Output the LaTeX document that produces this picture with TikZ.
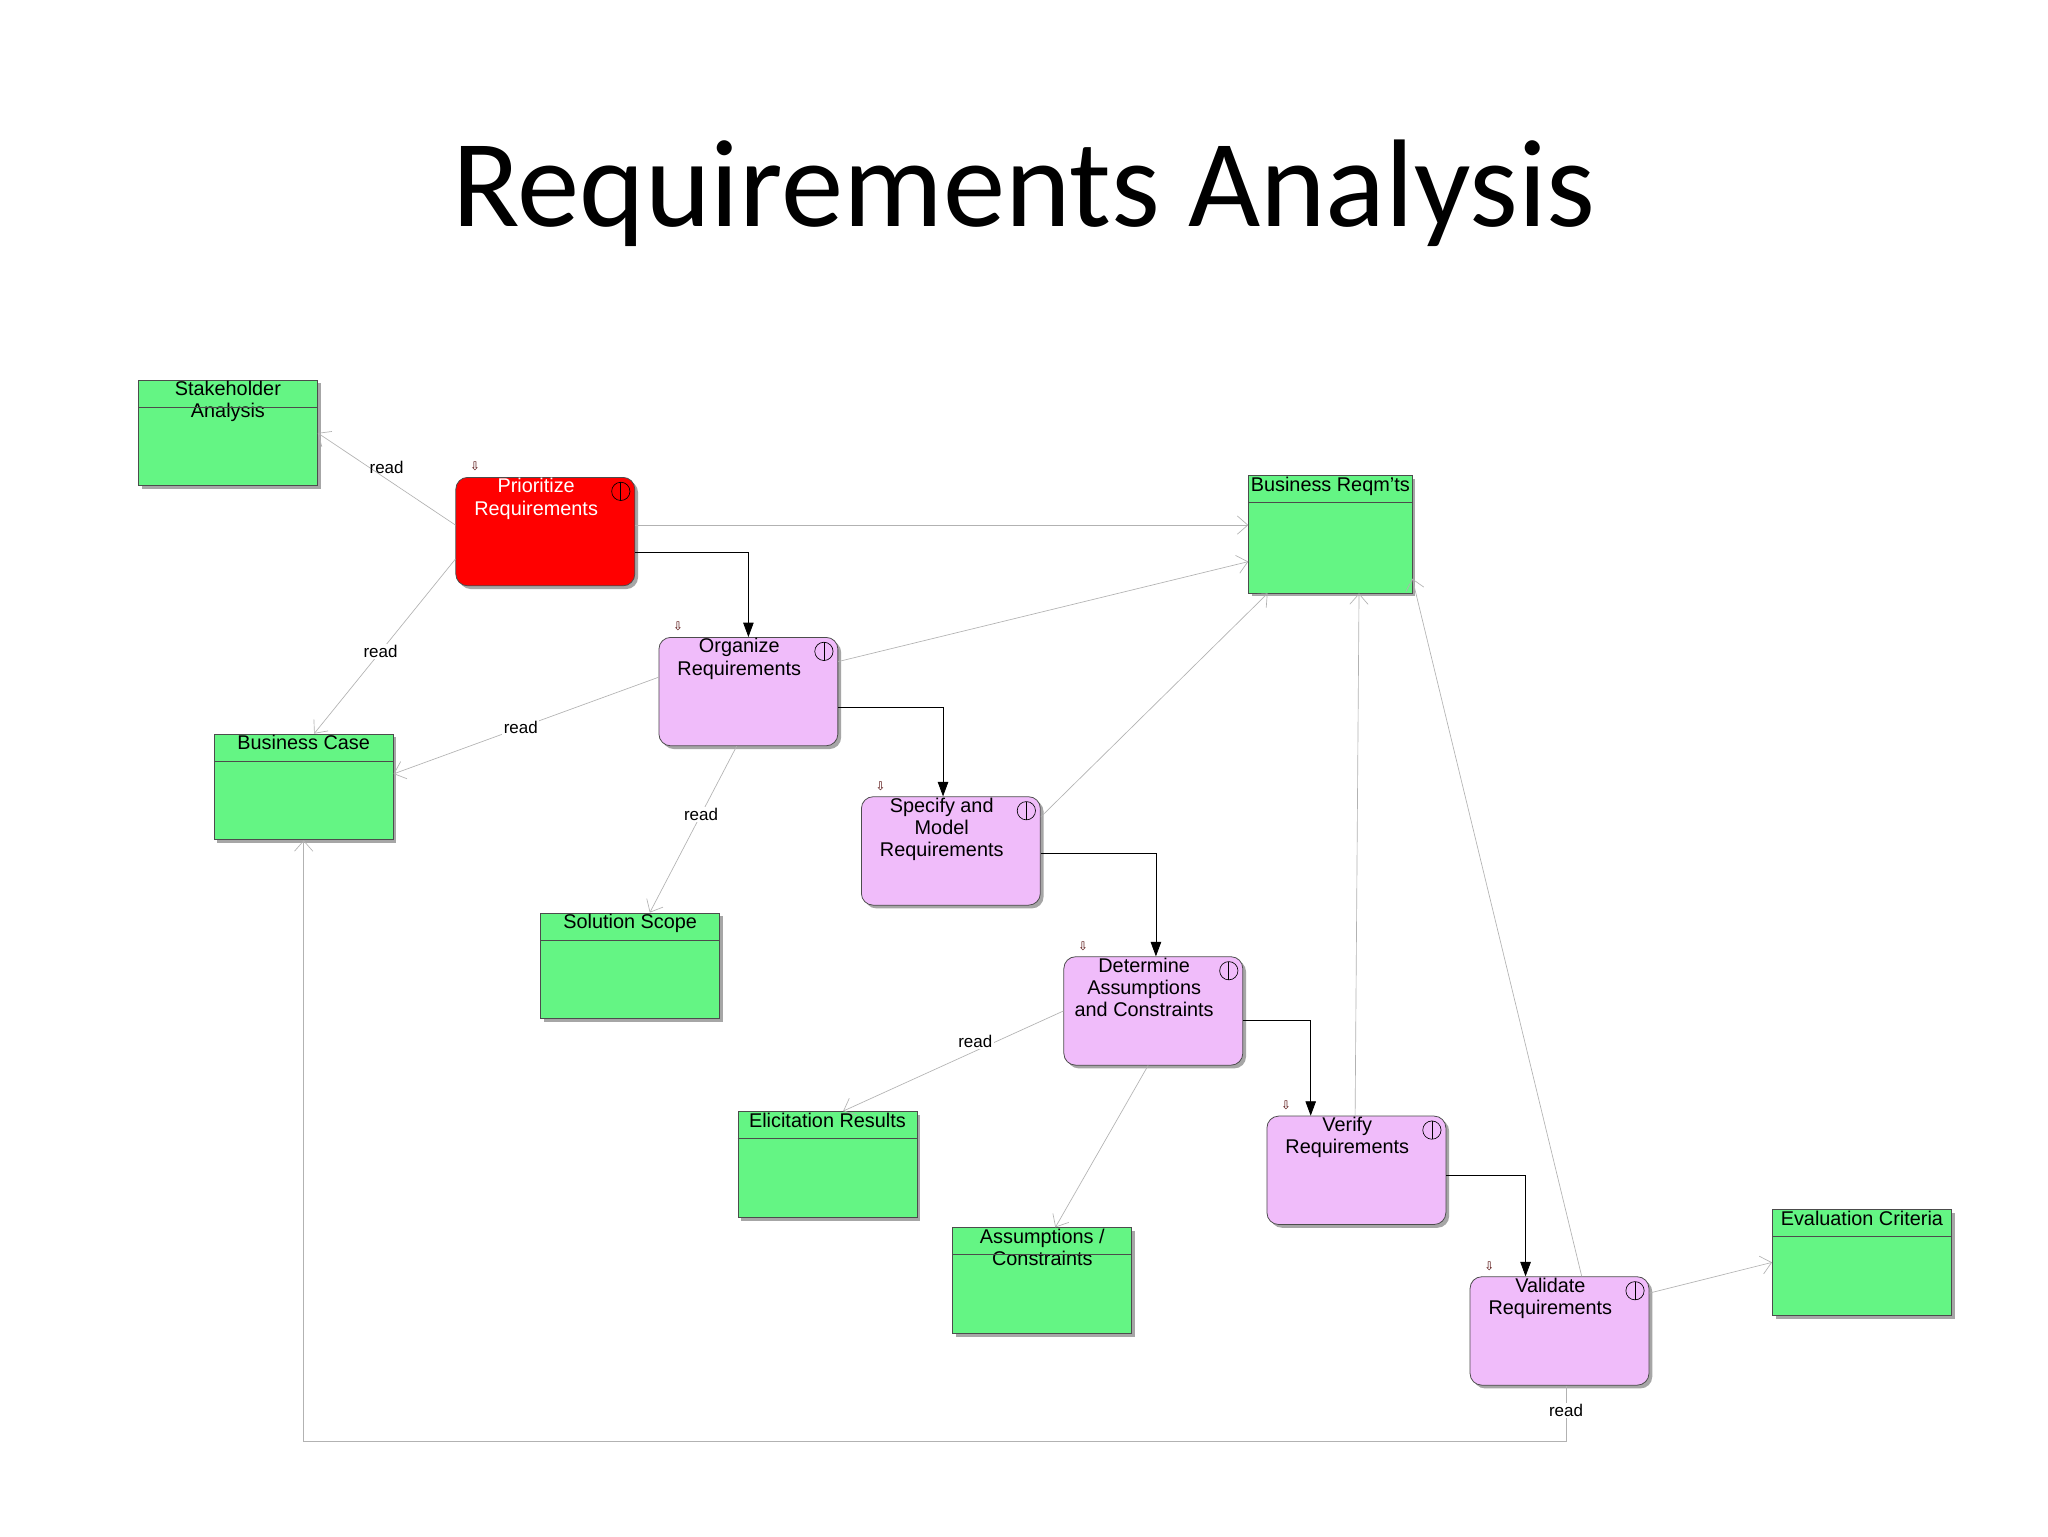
\documentclass[tikz,border=0pt]{standalone}
\usepackage{fontspec}
\setmainfont{Liberation Sans}
\newfontfamily\titlefont{Carlito}
\newfontfamily\symfont{DejaVu Sans}
\usetikzlibrary{arrows.meta,shadows}
\definecolor{datagreen}{HTML}{64F584}
\definecolor{actlilac}{HTML}{F0BCFA}
\definecolor{actred}{HTML}{FF0000}
\tikzset{
  box/.style={draw=black!70, line width=0.6pt, minimum width=137pt, minimum height=81pt, inner sep=0pt,
    drop shadow={shadow xshift=2.5pt, shadow yshift=-2.5pt, fill=black!35, opacity=1}},
  data/.style={box, fill=datagreen},
  act/.style={box, fill=actlilac, rounded corners=9pt, minimum height=83pt},
  boxtext/.style={anchor=north, inner sep=1pt, align=center, font=\fontsize{15.2}{17}\selectfont},
  acttext/.style={boxtext, xshift=-7pt},
  readline/.style={draw=black!30, line width=0.5pt, -{Straight Barb[length=8pt,width=14pt]}},
  flow/.style={draw=black, line width=0.6pt, -{Triangle[length=11pt,width=8pt]}},
  readlabel/.style={font=\fontsize{13}{14}\selectfont, text=black, fill=white, inner sep=1pt}
}
\begin{document}
\begin{tikzpicture}[x=1pt,y=-1pt]
  \fill[white] (0,0) rectangle (1568,1176);
  \useasboundingbox (0,0) rectangle (1568,1176);
  \node[font=\titlefont\fontsize{95.5}{105}\selectfont] (title) at (784,148) {Requirements Analysis};

  % data objects
  \node[data, label={[boxtext]north:Stakeholder\\Analysis}] (stake) at (174.5,331.5) {};
  \node[data, minimum width=125pt, minimum height=90pt, label={[boxtext]north:Business Reqm'ts}] (breq) at (1018.5,409) {};
  \node[data, label={[boxtext]north:Business Case}] (bcase) at (232.5,602.5) {};
  \node[data, label={[boxtext]north:Solution Scope}] (scope) at (482.5,739.5) {};
  \node[data, label={[boxtext]north:Elicitation Results}] (elic) at (633.5,891.5) {};
  \node[data, label={[boxtext]north:Assumptions /\\Constraints}] (assum) at (798,980.5) {};
  \node[data, label={[boxtext]north:Evaluation Criteria}] (eval) at (1425.5,966.5) {};
  \foreach \d in {stake,breq,bcase,scope,elic,assum,eval}
    \draw[black!70, line width=0.6pt] ([yshift=-21pt]\d.north west) -- ([yshift=-21pt]\d.north east);

  % activities
  \node[act, fill=actred, label={[acttext, text=white]north:Prioritize\\Requirements}] (pri) at (417.5,407) {};
  \node[act, label={[acttext]north:Organize\\Requirements}] (org) at (573,529.5) {};
  \node[act, label={[acttext]north:Specify and\\Model\\Requirements}] (spec) at (728,651.5) {};
  \node[act, label={[acttext]north:Determine\\Assumptions\\and Constraints}] (det) at (883,774) {};
  \node[act, label={[acttext]north:Verify\\Requirements}] (ver) at (1038.5,896) {};
  \node[act, label={[acttext]north:Validate\\Requirements}] (val) at (1194,1019) {};
  \foreach \a in {pri,org,spec,det,ver,val} {
    \draw[line width=0.5pt] ([xshift=-11pt,yshift=-11pt]\a.north east) circle[radius=7pt];
    \draw[line width=0.5pt] ([xshift=-11pt,yshift=-4pt]\a.north east) -- ([xshift=-11pt,yshift=-18pt]\a.north east);
    \node[font=\symfont\fontsize{9}{9}\selectfont, text=black!70!red] at ([xshift=15pt,yshift=8pt]\a.north west) {⇩};
  }

  % read connectors
  \draw[readline] ([yshift=5pt]pri.west) -- node[readlabel, pos=0.5, above=3pt, fill=none] {read} (stake.east);
  \draw[readline] ([yshift=-21pt]pri.west) -- node[readlabel, pos=0.53] {read} ([xshift=8pt]bcase.north);
  \draw[readline] ([yshift=5pt]pri.east) -- ([yshift=7pt]breq.west);
  \draw[readline] ([yshift=23pt]org.east) -- ([yshift=-21pt]breq.west);
  \draw[readline] ([yshift=11pt]org.west) -- node[readlabel, pos=0.52] {read} ([yshift=10pt]bcase.east);
  \draw[readline] ([xshift=-9pt]org.south) -- node[readlabel, pos=0.41] {read} ([xshift=15pt]scope.north);
  \draw[readline] ([yshift=26pt]spec.east) -- ([xshift=-48pt]breq.south);
  \draw[readline] (det.west) -- node[readlabel, pos=0.4, above=1pt] {read} ([xshift=12pt]elic.north);
  \draw[readline] ([xshift=-4pt]det.south) -- ([xshift=10pt]assum.north);
  \draw[readline] ([xshift=-1pt]ver.north) -- ([xshift=22pt]breq.south);
  \draw[readline] ([xshift=17pt]val.north) -- ([yshift=-34pt]breq.east);
  \draw[readline] ([yshift=29pt]val.east) -- (eval.west);
  \draw[readline] ([xshift=5pt]val.south) -- node[readlabel, pos=0.45] {read} ++(0,43) -| (bcase.south);

  % control flow
  \draw[flow] ([yshift=-16pt]pri.east) -| (org.north);
  \draw[flow] ([yshift=-12pt]org.east) -| ([xshift=-6pt]spec.north);
  \draw[flow] ([yshift=-2pt]spec.east) -| ([xshift=2pt]det.north);
  \draw[flow] ([yshift=-7pt]det.east) -| ([xshift=-35pt]ver.north);
  \draw[flow] ([yshift=-4pt]ver.east) -| ([xshift=-26pt]val.north);
\end{tikzpicture}
\end{document}
